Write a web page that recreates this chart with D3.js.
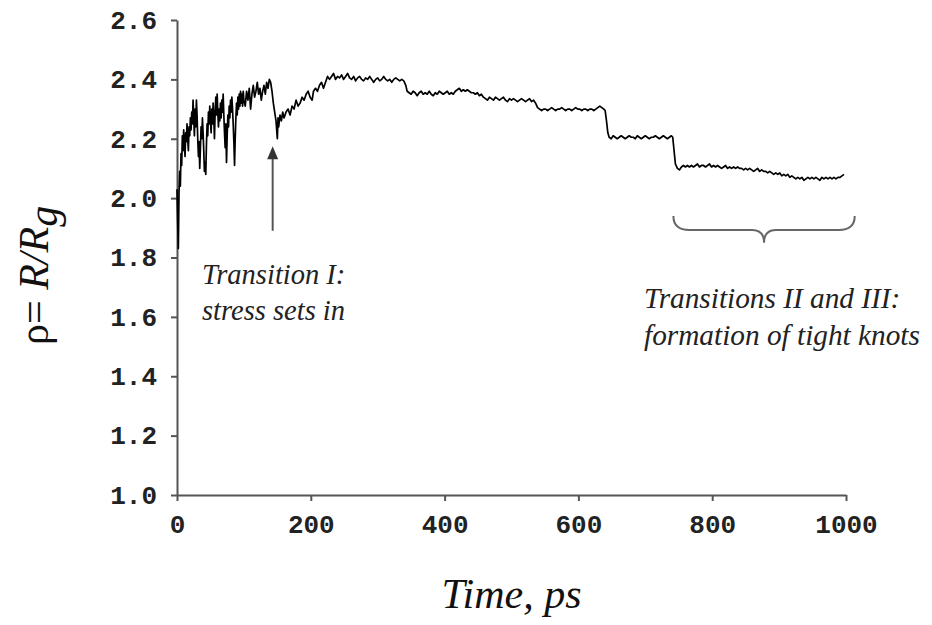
<!DOCTYPE html>
<html>
<head>
<meta charset="utf-8">
<script src="https://cdn.jsdelivr.net/npm/d3@7"></script>
<style>
  html, body { margin: 0; padding: 0; background: #fff; }
  svg { display: block; }
</style>
</head>
<body>
<svg id="chart" width="932" height="625"></svg>
<script>
// Shape parameter rho = R/Rg of the knotted chain over a 1 ns trajectory
const rhoTrace = [
  [0,2.03],[1,1.92],[2,1.83],[3,2.02],[4,2.09],[5,2.04],[6,2.15],[7,2.11],[8,2.21],[9,2.16],
  [10,2.23],[11,2.18],[12,2.14],[13,2.22],[14,2.19],[15,2.25],[16,2.20],[17,2.16],[18,2.24],[19,2.21],
  [20,2.27],[21,2.23],[22,2.29],[23,2.25],[24,2.33],[25,2.27],[26,2.21],[27,2.30],[28,2.24],[29,2.33],
  [30,2.28],[31,2.20],[32,2.14],[33,2.19],[34,2.10],[35,2.17],[36,2.24],[37,2.20],[38,2.27],[39,2.22],
  [40,2.16],[41,2.09],[42,2.12],[43,2.08],[44,2.18],[45,2.25],[46,2.21],[47,2.29],[48,2.25],[49,2.31],
  [50,2.26],[51,2.22],[52,2.30],[53,2.25],[54,2.32],[55,2.27],[56,2.20],[57,2.29],[58,2.34],[59,2.28],
  [60,2.35],[61,2.29],[62,2.24],[63,2.30],[64,2.26],[65,2.32],[66,2.27],[67,2.33],[68,2.29],[69,2.35],
  [70,2.28],[71,2.22],[72,2.17],[73,2.25],[74,2.12],[75,2.21],[76,2.28],[77,2.24],[78,2.31],[79,2.27],
  [80,2.33],[81,2.29],[82,2.34],[83,2.30],[84,2.25],[85,2.19],[86,2.11],[87,2.20],[88,2.27],[89,2.32],
  [90,2.28],[91,2.34],[92,2.30],[93,2.35],[94,2.31],[95,2.36],[96,2.32],[97,2.35],[98,2.31],[99,2.36],
  [100,2.33],[102,2.31],[104,2.36],[106,2.33],[108,2.37],[110,2.30],[112,2.35],[114,2.38],[116,2.34],[118,2.36],
  [120,2.39],[122,2.35],[124,2.37],[126,2.33],[128,2.36],[130,2.38],[132,2.35],[134,2.39],[136,2.37],[138,2.40],
  [140,2.39],[142,2.36],[144,2.32],[146,2.29],[148,2.26],[150,2.20],[151,2.27],[152,2.24],[154,2.28],[156,2.26],
  [158,2.29],[160,2.27],[163,2.29],[166,2.30],[169,2.28],[172,2.31],[175,2.30],[178,2.33],[181,2.31],[184,2.32],
  [187,2.34],[190,2.33],[193,2.35],[196,2.36],[199,2.34],[202,2.33],[204,2.36],[207,2.37],[210,2.36],[213,2.38],
  [216,2.39],[219,2.37],[222,2.39],[225,2.41],[228,2.40],[231,2.41],[234,2.42],[237,2.40],[240,2.41],[243,2.405],
  [246,2.415],[249,2.40],[252,2.41],[255,2.42],[258,2.405],[261,2.40],[264,2.41],[267,2.395],[270,2.405],[273,2.41],
  [276,2.40],[279,2.395],[282,2.405],[285,2.40],[288,2.41],[291,2.40],[294,2.39],[297,2.40],[300,2.405],[303,2.395],
  [306,2.40],[309,2.41],[312,2.40],[315,2.395],[318,2.40],[321,2.39],[324,2.40],[327,2.405],[330,2.40],[333,2.395],
  [336,2.40],[339,2.395],[342,2.38],[344,2.36],[347,2.355],[350,2.35],[353,2.36],[356,2.355],[359,2.345],[362,2.355],
  [365,2.36],[368,2.35],[371,2.355],[374,2.35],[377,2.36],[380,2.35],[383,2.345],[386,2.355],[389,2.35],[392,2.36],
  [395,2.355],[398,2.35],[401,2.355],[404,2.36],[407,2.35],[410,2.355],[413,2.35],[416,2.36],[419,2.365],[422,2.37],
  [425,2.36],[428,2.365],[431,2.36],[434,2.365],[437,2.36],[440,2.355],[443,2.355],[446,2.35],[449,2.355],[452,2.345],
  [455,2.35],[458,2.34],[461,2.335],[464,2.33],[467,2.34],[470,2.335],[473,2.33],[476,2.34],[479,2.335],[482,2.33],
  [485,2.335],[488,2.34],[491,2.33],[494,2.325],[497,2.335],[500,2.33],[503,2.335],[506,2.33],[509,2.325],[512,2.33],
  [515,2.335],[518,2.33],[521,2.325],[524,2.33],[527,2.335],[530,2.325],[533,2.33],[536,2.32],[539,2.305],[542,2.30],
  [545,2.295],[548,2.30],[551,2.30],[554,2.295],[557,2.30],[560,2.305],[563,2.30],[566,2.295],[569,2.30],[572,2.30],
  [575,2.305],[578,2.30],[581,2.295],[584,2.30],[587,2.30],[590,2.295],[593,2.30],[596,2.305],[599,2.30],[602,2.30],
  [605,2.295],[608,2.30],[611,2.30],[614,2.295],[617,2.30],[620,2.30],[623,2.295],[626,2.30],[629,2.305],[632,2.31],
  [635,2.305],[638,2.30],[640,2.295],[642,2.26],[644,2.22],[646,2.205],[649,2.20],[652,2.21],[655,2.205],[658,2.20],
  [661,2.205],[664,2.21],[667,2.205],[670,2.20],[673,2.205],[676,2.21],[679,2.205],[682,2.205],[685,2.20],[688,2.21],
  [691,2.205],[694,2.20],[697,2.205],[700,2.21],[703,2.205],[706,2.20],[709,2.205],[712,2.205],[715,2.21],[718,2.205],
  [721,2.20],[724,2.205],[727,2.21],[730,2.205],[733,2.20],[736,2.205],[739,2.21],[741,2.205],[743,2.16],[745,2.115],
  [748,2.10],[751,2.095],[754,2.105],[757,2.11],[760,2.105],[763,2.11],[766,2.105],[769,2.11],[772,2.105],[775,2.11],
  [778,2.115],[781,2.105],[784,2.11],[787,2.11],[790,2.105],[793,2.11],[796,2.115],[799,2.105],[802,2.11],[805,2.105],
  [808,2.11],[811,2.105],[814,2.10],[817,2.105],[820,2.11],[823,2.10],[826,2.105],[829,2.10],[832,2.105],[835,2.10],
  [838,2.105],[841,2.10],[844,2.10],[847,2.095],[850,2.10],[853,2.095],[856,2.10],[859,2.095],[862,2.09],[865,2.095],
  [868,2.10],[871,2.09],[874,2.095],[877,2.09],[880,2.09],[883,2.085],[886,2.09],[889,2.085],[892,2.08],[895,2.085],
  [898,2.08],[901,2.085],[904,2.075],[907,2.08],[910,2.075],[913,2.08],[916,2.07],[919,2.075],[922,2.07],[925,2.065],
  [928,2.07],[931,2.065],[934,2.07],[937,2.06],[940,2.065],[943,2.07],[946,2.065],[949,2.07],[952,2.065],[955,2.07],
  [958,2.065],[961,2.06],[964,2.07],[967,2.065],[970,2.07],[973,2.065],[976,2.07],[979,2.065],[982,2.07],[985,2.065],
  [988,2.07],[991,2.07],[994,2.075],[997,2.08]
];

const xTicks = [0, 200, 400, 600, 800, 1000];
const yTicks = [1.0, 1.2, 1.4, 1.6, 1.8, 2.0, 2.2, 2.4, 2.6];

const xLabel = "Time, ps";
const noteOne = ["Transition I:", "stress sets in"];
const noteTwo = ["Transitions II and III:", "formation of tight knots"];

const svg = d3.select("#chart");
svg.append("rect").attr("width", 932).attr("height", 625).attr("fill", "#fff");

const x = d3.scaleLinear().domain([0, 1000]).range([177, 846]);
const y = d3.scaleLinear().domain([1.0, 2.6]).range([495, 20]);

const axisColor = "#555";
const tickFont = "'Liberation Mono', 'Courier New', monospace";
const serif = "'Liberation Serif', 'Times New Roman', serif";

// x axis
const gx = svg.append("g")
  .attr("transform", `translate(0,${y(1.0)})`)
  .call(d3.axisBottom(x).tickValues(xTicks).tickSize(6).tickSizeOuter(0).tickPadding(14)
    .tickFormat(d3.format("d")));

// y axis
const gy = svg.append("g")
  .attr("transform", `translate(${x(0)},0)`)
  .call(d3.axisLeft(y).tickValues(yTicks).tickSize(6).tickSizeOuter(0).tickPadding(14)
    .tickFormat(d3.format(".1f")));

[gx, gy].forEach(g => {
  g.select(".domain").attr("stroke", axisColor).attr("stroke-width", 2);
  g.selectAll(".tick line").attr("stroke", axisColor).attr("stroke-width", 2);
  g.selectAll(".tick text")
    .attr("fill", "#222")
    .style("font-family", tickFont)
    .style("font-weight", "bold")
    .style("font-size", "26px");
});

// rho trace
const line = d3.line().x(d => x(d[0])).y(d => y(d[1]));
svg.append("path")
  .datum(rhoTrace)
  .attr("d", line)
  .attr("fill", "none")
  .attr("stroke", "#000")
  .attr("stroke-width", 1.7)
  .attr("stroke-linejoin", "round");

// arrow marking the first transition
const ax = x(143), aTip = y(2.175), aTail = y(1.89);
svg.append("line")
  .attr("x1", ax).attr("x2", ax)
  .attr("y1", aTail).attr("y2", aTip + 10)
  .attr("stroke", "#555")
  .attr("stroke-width", 2);
svg.append("path")
  .attr("d", `M${ax},${aTip} L${ax + 5.5},${aTip + 13} L${ax - 5.5},${aTip + 13} Z`)
  .attr("fill", "#333");

// brace over the late transitions
const bx0 = x(742), bx1 = x(1013), bm = (bx0 + bx1) / 2;
const byTop = y(1.94), byMid = y(1.893), byTip = y(1.85);
const brace = d3.path();
brace.moveTo(bx0, byTop);
brace.quadraticCurveTo(bx0, byMid, bx0 + 16, byMid);
brace.lineTo(bm - 12, byMid);
brace.quadraticCurveTo(bm, byMid, bm, byTip);
brace.quadraticCurveTo(bm, byMid, bm + 12, byMid);
brace.lineTo(bx1 - 16, byMid);
brace.quadraticCurveTo(bx1, byMid, bx1, byTop);
svg.append("path")
  .attr("d", brace.toString())
  .attr("fill", "none")
  .attr("stroke", "#666")
  .attr("stroke-width", 2);

// annotation text
function note(lines, xPos, yPos, size, lh) {
  const t = svg.append("text")
    .attr("x", xPos).attr("y", yPos)
    .attr("fill", "#222")
    .style("font-family", serif)
    .style("font-style", "italic")
    .style("font-size", size + "px");
  lines.forEach((s, i) => {
    t.append("tspan").attr("x", xPos).attr("dy", i === 0 ? 0 : lh).text(s);
  });
}
note(noteOne, 202, 284, 28.5, 36);
note(noteTwo, 644, 308, 29.3, 37);

// axis titles
svg.append("text")
  .attr("x", (x(0) + x(1000)) / 2)
  .attr("y", 608)
  .attr("text-anchor", "middle")
  .attr("fill", "#111")
  .style("font-family", serif)
  .style("font-style", "italic")
  .style("font-size", "42px")
  .text(xLabel);

const yt = svg.append("text")
  .attr("transform", "translate(48,345) rotate(-90)")
  .attr("text-anchor", "start")
  .attr("fill", "#111")
  .style("font-family", serif)
  .style("font-size", "42px");
yt.append("tspan").text("\u03C1= ");
yt.append("tspan").style("font-style", "italic").text("R/R");
yt.append("tspan").style("font-style", "italic").attr("dy", 9).text("g");
</script>
</body>
</html>
